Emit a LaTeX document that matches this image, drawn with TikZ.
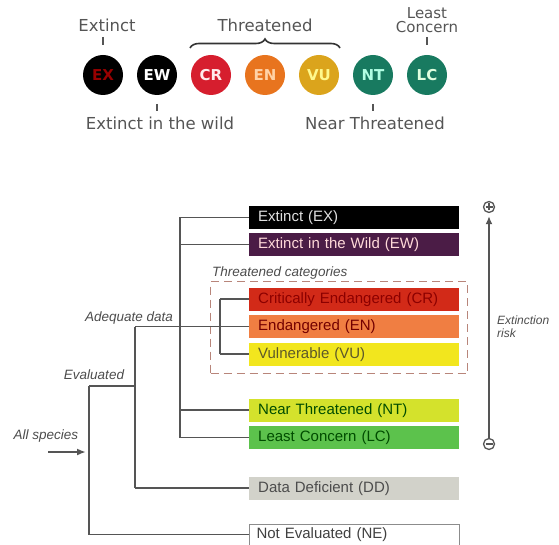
\documentclass[tikz,border=0pt]{standalone}
\usepackage{fontspec}
\setmainfont{Liberation Sans}
\newfontfamily\dv{DejaVu Sans}
\usetikzlibrary{arrows.meta,decorations.pathreplacing}
\definecolor{lbl}{HTML}{555555}
\definecolor{ln}{HTML}{555555}
\definecolor{cEX}{HTML}{000000}
\definecolor{cEW}{HTML}{4B1C46}
\definecolor{cCR}{HTML}{D22A18}
\definecolor{cEN}{HTML}{F07E42}
\definecolor{cVU}{HTML}{F2E61E}
\definecolor{cNT}{HTML}{D4E22C}
\definecolor{cLC}{HTML}{5CC24C}
\definecolor{cDD}{HTML}{D2D2CA}
\definecolor{dash}{HTML}{B8857A}
\definecolor{rCR}{HTML}{D61E2E}
\definecolor{rEN}{HTML}{E8741E}
\definecolor{rVU}{HTML}{DBA41C}
\definecolor{rNT}{HTML}{187A60}
\begin{document}
\begin{tikzpicture}[x=1pt,y=-1pt,
  redlist/.style={circle, minimum size=40pt, inner sep=0pt, font=\dv\bfseries\fontsize{15}{17}\selectfont},
  toplabel/.style={text=lbl, inner sep=1pt, font=\dv\fontsize{16.5}{18}\selectfont},
  tick/.style={draw=lbl, line width=1.3pt},
  catbox/.style={anchor=west, minimum height=23pt, text width=192pt, align=left, inner xsep=9pt, inner ysep=0pt,
     text height=11pt, text depth=3pt, font=\fontsize{15}{17}\selectfont},
  branch/.style={draw=ln, line width=1.8pt},
  ital/.style={text=ln!90!black, inner sep=1pt, font=\itshape\fontsize{13.5}{15}\selectfont},
  signc/.style={circle, draw=ln, line width=1.3pt, minimum size=11pt, inner sep=0pt}
]
\useasboundingbox (0,0) rectangle (559,545);

% ---------- top: red list circles ----------
\node[redlist, fill=black, text=red!60!black] (cex) at (103,75) {EX};
\node[redlist, fill=black, text=white] (cew) at (157,75) {EW};
\node[redlist, fill=rCR, text=red!8] (ccr) at (211,75) {CR};
\node[redlist, fill=rEN, text=orange!35] (cen) at (265,75) {EN};
\node[redlist, fill=rVU, text=yellow!45] (cvu) at (319,75) {VU};
\node[redlist, fill=rNT, text=green!35!cyan!30] (cnt) at (373,75) {NT};
\node[redlist, fill=rNT, text=white!88!green] (clc) at (427,75) {LC};

\node[toplabel] (lex) at (107,25) {Extinct};
\node[toplabel] (lthr) at (265,25) {Threatened};
\node[toplabel, align=center, font=\dv\fontsize{15}{14.5}\selectfont] (llc) at (427,20) {Least\\Concern};
\node[toplabel] (lew) at (160,123) {Extinct in the wild};
\node[toplabel] (lnt) at (375,123) {Near Threatened};

\coordinate (tex1) at (103,37); \coordinate (tex2) at (103,45);
\draw[tick] (tex1) -- (tex2);
\coordinate (tlc1) at (427,37); \coordinate (tlc2) at (427,45);
\draw[tick] (tlc1) -- (tlc2);
\coordinate (tew1) at (157,104); \coordinate (tew2) at (157,111);
\draw[tick] (tew1) -- (tew2);
\coordinate (tnt1) at (373,104); \coordinate (tnt2) at (373,111);
\draw[tick] (tnt1) -- (tnt2);

\coordinate (br1) at (190,48); \coordinate (br2) at (340,48);
\draw[draw=black!80, line width=1.6pt, decorate, decoration={brace, amplitude=9pt}] (br1) -- (br2);

% ---------- bottom: categories ----------
\node[draw=dash, dashed, dash pattern=on 8pt off 5pt, line width=1.3pt, minimum width=257pt, minimum height=92pt, inner sep=0pt, anchor=north west] (thr) at (210,281) {};
\node[ital, anchor=west, inner sep=0pt] (thrlbl) at (212,273) {Threatened categories};

\node[catbox, fill=cEX, text=white!88!black] (ex) at (249,217.5) {Extinct (EX)};
\node[catbox, fill=cEW, text=pink!60!white] (ew) at (249,244.5) {Extinct in the Wild (EW)};
\node[catbox, fill=cCR, text=red!55!black] (cr) at (249,299) {Critically Endangered (CR)};
\node[catbox, fill=cEN, text=red!45!black] (en) at (249,326.5) {Endangered (EN)};
\node[catbox, fill=cVU, text=olive!55!black] (vu) at (249,354) {Vulnerable (VU)};
\node[catbox, fill=cNT, text=green!30!black] (nt) at (249,410) {Near Threatened (NT)};
\node[catbox, fill=cLC, text=green!30!black] (lc) at (249,437.5) {Least Concern (LC)};
\node[catbox, fill=cDD, text=black!70] (dd) at (249,488) {Data Deficient (DD)};
\node[catbox, draw=black!45, line width=1pt, fill=white, text=black!75, minimum height=21pt, inner xsep=7pt, text width=196pt] (ne) at (249,534.5) {Not Evaluated (NE)};

% junction columns
\coordinate (c1) at (180,0);
\coordinate (c2) at (220,0);
\coordinate (c3) at (135,0);
\coordinate (c4) at (89,0);

% adequate-data bus
\draw[branch] (c1 |- ex.west) -- (ex.west);
\draw[branch] (c1 |- ew.west) -- (ew.west);
\draw[branch] (c1 |- nt.west) -- (nt.west);
\draw[branch] (c1 |- lc.west) -- (lc.west);
\draw[branch] (c1 |- ex.west) -- (c1 |- lc.west);
% threatened bus
\draw[branch] (c2 |- cr.west) -- (cr.west);
\draw[branch] (c2 |- vu.west) -- (vu.west);
\draw[branch] (c2 |- cr.west) -- (c2 |- vu.west);
% adequate data
\draw[branch] (c3 |- en.west) -- (en.west);
\draw[branch] (c3 |- en.west) -- (c3 |- dd.west);
\draw[branch] (c3 |- dd.west) -- (dd.west);
% evaluated
\coordinate (ev) at (89,386);
\draw[branch] (ev) -- (c3 |- ev);
\draw[branch] (ev) -- (c4 |- ne.west);
\draw[branch] (c4 |- ne.west) -- (ne.west);

% all species arrow
\coordinate (as1) at (48,452);
\coordinate (as2) at (86,452);
\draw[branch, -{Latex[length=9pt,width=7pt]}] (as1) -- (as2);

\node[ital] (adq) at (129,318) {Adequate data};
\node[ital] (evl) at (94,375) {Evaluated};
\node[ital] (all) at (46,436) {All species};

% extinction risk axis
\node[signc] (plus) at (489,207) {};
\draw[draw=ln, line width=1.2pt] ([xshift=-3.5pt]plus.center) -- ([xshift=3.5pt]plus.center);
\draw[draw=ln, line width=1.2pt] ([yshift=-3.5pt]plus.center) -- ([yshift=3.5pt]plus.center);
\node[signc] (minus) at (489,444) {};
\draw[draw=ln, line width=1.2pt] ([xshift=-3.5pt]minus.center) -- ([xshift=3.5pt]minus.center);
\draw[draw=ln, line width=1.6pt, -{Latex[length=8pt,width=7pt]}, shorten >=3pt] (minus.north) -- (plus.south);
\node[ital, anchor=north west, align=left, inner sep=0pt, font=\itshape\fontsize{12}{12.5}\selectfont] (risk) at (497,316) {Extinction\\risk};
\end{tikzpicture}
\end{document}
